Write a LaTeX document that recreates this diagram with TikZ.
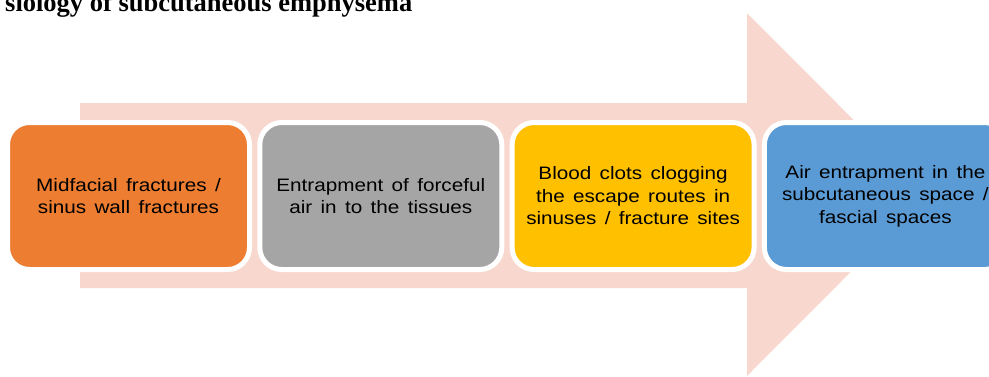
\documentclass[tikz,border=0pt]{standalone}
\usepackage{fontspec}
\usepackage{tikz}
\usetikzlibrary{positioning}
\newfontfamily\titlefont{Liberation Serif}
\newfontfamily\boxfont[FakeStretch=1.15,WordSpace=1.45]{Liberation Sans}
\definecolor{arrowpink}{RGB}{248,216,206}
\definecolor{boxorange}{RGB}{237,125,49}
\definecolor{boxgray}{RGB}{165,165,165}
\definecolor{boxyellow}{RGB}{255,192,0}
\definecolor{boxblue}{RGB}{91,155,213}
\tikzset{
  stagebox/.style={draw=white,line width=5pt,rounded corners=22pt,
    minimum width=242pt,minimum height=147pt,align=center,
    inner sep=0pt,outer sep=0pt,
    font=\boxfont\fontsize{18}{22.5}\selectfont},
}

\begin{document}
\begin{tikzpicture}[x=1pt,y=1pt,yscale=-1,xscale=1]
\useasboundingbox (0,0) rectangle (989,376);

%Shape: Right Arrow [id:arrow]
\fill [arrowpink] (80,103) -- (747,103) -- (747,13) -- (928,194.5) -- (747,376) -- (747,288) -- (80,288) -- cycle ;

% Text Node
\node (title) [anchor=base west,inner sep=0pt,font=\titlefont\bfseries\fontsize{26.5}{30}\selectfont] at (5,11) {siology of subcutaneous emphysema};

%Shape: Rounded Rectangle [id:fractures]
\node (fractures) [stagebox,fill=boxorange] at (128.5,196) {Midfacial fractures /\\ sinus wall fractures};
%Shape: Rounded Rectangle [id:entrapment]
\node (entrapment) [stagebox,fill=boxgray,right=10.3pt of fractures] {Entrapment of forceful\\ air in to the tissues};
%Shape: Rounded Rectangle [id:clots]
\node (clots) [stagebox,fill=boxyellow,right=10.3pt of entrapment] {Blood clots clogging\\ the escape routes in\\ sinuses / fracture sites};
%Shape: Rounded Rectangle [id:subcutaneous]
\node (subcutaneous) [stagebox,fill=boxblue,right=10.3pt of clots] {Air entrapment in the\\ subcutaneous space /\\ fascial spaces};
\end{tikzpicture}
\end{document}
